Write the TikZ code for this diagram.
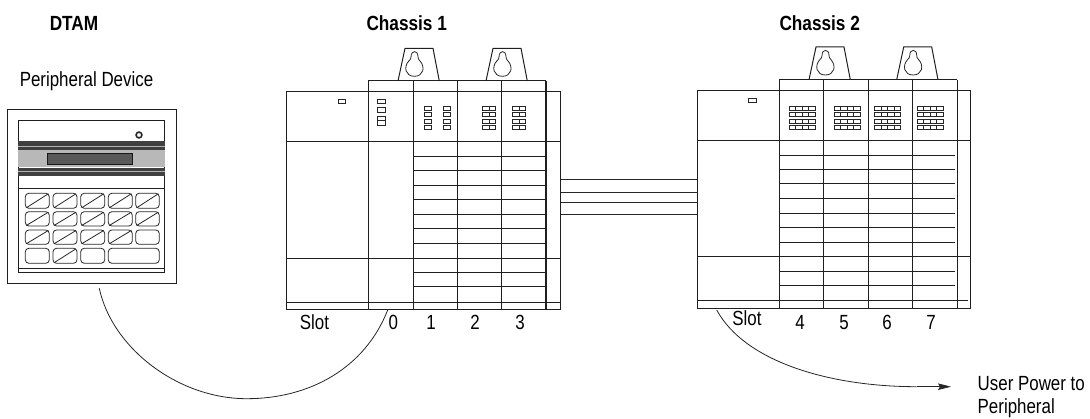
\documentclass[tikz,border=0pt]{standalone}
\usepackage{fontspec}
\setmainfont[FakeStretch=0.825]{Liberation Sans}
\newfontfamily\headfont[FakeStretch=0.84]{Liberation Sans}
\usetikzlibrary{arrows.meta}
\tikzset{
  ln/.style={line width=1pt,draw=black!88},
  thin ln/.style={line width=0.8pt,draw=black!85},
  led/.style={line width=0.8pt,draw=black!85,fill=white},
  lbl/.style={inner sep=0pt,font=\fontsize{20.5}{23}\selectfont,anchor=base},
  head/.style={inner sep=0pt,font=\headfont\bfseries\fontsize{20.5}{23}\selectfont,anchor=base},
  keycap/.style={line width=0.8pt,draw=black!85,rounded corners=3.5pt},
  wire/.style={line width=0.8pt,draw=black!85}
}
\newcommand{\hanger}[2]{%
  % #1 base left x, #2 base y
  \draw[ln] (#1,#2) -- ++(7,-32.7) -- ++(28,0) -- ++(6.3,32.7);
  \draw[thin ln] ({#1+13.1},{#2-24.4})
     .. controls ({#1+13},{#2-31}) and ({#1+20},{#2-31}) .. ({#1+20},{#2-24.4})
     .. controls ({#1+20},{#2-22.2}) and ({#1+20.5},{#2-21.6}) .. ({#1+22},{#2-20})
     .. controls ({#1+27.5},{#2-14}) and ({#1+25.5},{#2-4.7}) .. ({#1+16.4},{#2-4.7})
     .. controls ({#1+7.3},{#2-4.7}) and ({#1+5.3},{#2-14}) .. ({#1+10.8},{#2-20})
     .. controls ({#1+12.3},{#2-21.6}) and ({#1+13.1},{#2-22.2}) .. ({#1+13.1},{#2-24.4});
}
\newcommand{\ledrows}[3]{%
  % #1 left, #2 right, #3 number of cells
  \foreach \yy in {106.3,112.8,119.3,125.9}{
    \pgfmathsetmacro{\cw}{(#2-#1)/#3}
    \foreach \i in {1,...,#3}{
      \draw[led] ({#1+(\i-1)*\cw},\yy) rectangle ({#1+\i*\cw},{\yy+4});
    }
  }
}
\begin{document}
\begin{tikzpicture}[x=1pt,y=-1pt]
\useasboundingbox (0,0) rectangle (1090,419);
% ---------- labels
\node[head] (dtam) at (74,31) {DTAM};
\node[head] (c1) at (406.7,31) {Chassis 1};
\node[head] (c2) at (819.7,31) {Chassis 2};
\node[lbl] (pd) at (86.5,86.7) {Peripheral Device};
\node[lbl] (s1) at (314.5,330) {Slot};
\node[lbl] (n0) at (393.3,330) {0};
\node[lbl] (n1) at (431,330) {1};
\node[lbl] (n2) at (475,330) {2};
\node[lbl] (n3) at (520,330) {3};
\node[lbl] (s2) at (747,326) {Slot};
\node[lbl] (n4) at (800,330) {4};
\node[lbl] (n5) at (844,330) {5};
\node[lbl] (n6) at (887,330) {6};
\node[lbl] (n7) at (931,330) {7};
\node[lbl,anchor=base west] (up1) at (977.5,390.5) {User Power to};
\node[lbl,anchor=base west] (up2) at (977.5,413.5) {Peripheral};
% ---------- DTAM
\draw[ln] (7.3,109.3) rectangle (176,283.3);
\draw[ln] (18,120.3) rectangle (164.7,272.3);
\draw[ln] (18,268.3) -- (164.7,268.3);
\draw[ln] (18,188.3) -- (164.7,188.3);
\fill[black!28] (18,150) rectangle (164.7,167.5);
\fill[black!75] (18,141.3) rectangle (164.7,150.5);
\fill[black!75] (18,168) rectangle (164.7,176.3);
\draw[white!70!black,line width=0.6pt] (18,146) -- (164.7,146);
\draw[white!70!black,line width=0.6pt] (18,171) -- (164.7,171);
\draw[black!90,line width=0.8pt,fill=black!65] (47.3,153) rectangle (132.7,164.7);
\draw[black!85,line width=1.6pt] (139,135) circle[radius=2.9];
\foreach \xa/\xb in {25.3/49.3,53/77,80.7/104.7,108.3/132.3,135.7/159.3}{
  \foreach \ya/\yb in {193.3/208.3,211.7/226}{
    \draw[keycap] (\xa,\ya) rectangle (\xb,\yb);
    \draw[thin ln] ({\xa+1},{\yb-0.5}) -- ({\xb-1},{\ya+0.5});
  }
}
\foreach \xa/\xb in {25.3/49.3,53/77,80.7/104.7,108.3/132.3}{
  \draw[keycap] (\xa,230) rectangle (\xb,244.3);
  \draw[thin ln] ({\xa+1},243.8) -- ({\xb-1},230.5);
}
\draw[keycap] (135.7,230) rectangle (159.3,244.3);
\draw[keycap] (25.3,248.3) rectangle (49.3,263.3);
\draw[keycap] (53,248.3) rectangle (77,263.3);
\draw[thin ln] (54,262.8) -- (76,248.8);
\draw[keycap] (80.7,248.3) rectangle (104.7,263.3);
\draw[keycap] (108.3,248.3) rectangle (159.3,263.3);
% ---------- Chassis 1
\hanger{398}{81}
\hanger{486}{81}
\draw[ln] (286.7,91.7) rectangle (560,310);
\draw[ln] (368.3,81) -- (546,81);
\foreach \x in {368.3,413,457.3,501.7}{\draw[ln] (\x,81) -- (\x,310);}
\draw[ln,line width=1.4pt] (546,81) -- (546,310);
\draw[ln] (286.7,141.7) -- (560,141.7);
\draw[ln] (286.7,258.3) -- (560,258.3);
\draw[ln] (286.7,302.3) -- (560,302.3);
\foreach \y in {156.7,170.7,185.3,200,214.3,229,243.5,272.7,287}{\draw[ln] (413,\y) -- (545,\y);}
\draw[led] (338,99) rectangle (345.7,103.7);
\draw[led] (377.7,99) rectangle (385,103.7);
\draw[led] (377.7,107.7) rectangle (385,112.3);
\draw[led] (377.7,116) rectangle (385,120.7);
\draw[led] (377.7,120.7) rectangle (385,125);
\ledrows{424.7}{431.7}{1}
\ledrows{443.3}{450.7}{1}
\ledrows{482.3}{495.7}{2}
\ledrows{512.3}{525.7}{2}
% ---------- Chassis 2
\hanger{809}{79.7}
\hanger{896.7}{79.7}
\draw[ln] (697.3,90.7) rectangle (970.7,308.7);
\draw[ln] (779.3,79.7) -- (957,79.7);
\foreach \x in {779.3,823.7,868,912.7,957}{\draw[ln] (\x,79.7) -- (\x,308.7);}
\draw[ln] (697.3,140.7) -- (970.7,140.7);
\draw[ln] (697.3,257) -- (970.7,257);
\draw[ln] (697.3,301) -- (968,301);
\foreach \y in {155.3,170,184,198.7,213.3,228,242.3,271.3,285.7}{\draw[ln] (779.3,\y) -- (955,\y);}
\draw[led] (748.7,98) rectangle (756.7,102.7);
\ledrows{789}{815.3}{4}
\ledrows{834}{860.3}{4}
\ledrows{874.7}{900.7}{4}
\ledrows{917}{943.3}{4}
% ---------- cables between the chassis
\foreach \i/\y in {a/179.3,b/192.3,c/202,d/214.7}{
  \coordinate (w\i1) at (561,\y);
  \coordinate (w\i2) at (697,\y);
  \draw[wire] (w\i1) -- (w\i2);
}
% ---------- connectors
\coordinate (dtamout) at (99.3,288.3);
\coordinate (slotzero) at (387.7,310);
\draw[wire] (dtamout) .. controls (112,348) and (178,398.7) .. (246.7,398.7)
  .. controls (310,398.7) and (365,368) .. (slotzero);
\coordinate (pwrout) at (716.7,310);
\coordinate (pwrmid) at (916.7,386.7);
\coordinate (pwrend) at (951,386.7);
\draw[wire] (pwrout) .. controls (745,362) and (830,386.7) .. (pwrmid);
\draw[wire,-{Stealth[length=13pt,width=6.5pt,inset=2pt]}] (pwrmid) -- (pwrend);
\end{tikzpicture}
\end{document}
